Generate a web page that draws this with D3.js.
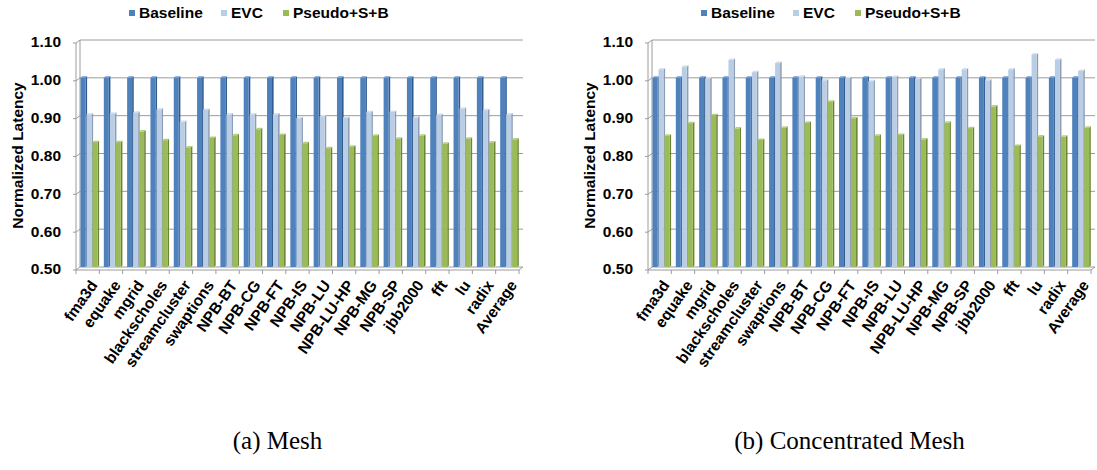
<!DOCTYPE html>
<meta charset="utf-8">
<style>
body { margin: 0; background: #fff; }
text { font-family: "Liberation Sans", Arial, sans-serif; font-weight: bold; fill: #000; }
.caption { font-family: "Liberation Serif", "Times New Roman", serif; font-weight: normal; }
.grid { stroke: #9c9c9c; stroke-width: 1; fill: none; }
</style>
<svg width="1097" height="470"></svg>
<script src="https://d3js.org/d3.v7.min.js"></script>
<script>

var categories = ["fma3d", "equake", "mgrid", "blackscholes", "streamcluster", "swaptions",
  "NPB-BT", "NPB-CG", "NPB-FT", "NPB-IS", "NPB-LU", "NPB-LU-HP", "NPB-MG", "NPB-SP",
  "jbb2000", "fft", "lu", "radix", "Average"]

var seriesNames = ["Baseline", "EVC", "Pseudo+S+B"]

var yTicks = [0.50, 0.60, 0.70, 0.80, 0.90, 1.00, 1.10]

// (a) Mesh
var meshBaseline = [1, 1, 1, 1, 1, 1, 1, 1, 1, 1, 1, 1, 1, 1, 1, 1, 1, 1, 1]
var meshEVC = [0.903, 0.905, 0.908, 0.916, 0.883, 0.915, 0.903, 0.903, 0.903, 0.893,
  0.898, 0.894, 0.909, 0.910, 0.895, 0.902, 0.918, 0.914, 0.903]
var meshPseudo = [0.830, 0.830, 0.858, 0.835, 0.816, 0.841, 0.848, 0.864, 0.849, 0.827,
  0.814, 0.818, 0.847, 0.839, 0.847, 0.826, 0.839, 0.829, 0.837]

// (b) Concentrated Mesh
var cmeshBaseline = [1, 1, 1, 1, 1, 1, 1, 1, 1, 1, 1, 1, 1, 1, 1, 1, 1, 1, 1]
var cmeshEVC = [1.022, 1.029, 0.998, 1.047, 1.015, 1.039, 1.003, 0.993, 0.999, 0.991,
  1.002, 0.997, 1.022, 1.022, 0.993, 1.022, 1.062, 1.048, 1.018]
var cmeshPseudo = [0.847, 0.880, 0.901, 0.866, 0.836, 0.868, 0.881, 0.937, 0.893, 0.847,
  0.849, 0.837, 0.881, 0.867, 0.924, 0.820, 0.845, 0.844, 0.868]

var colors = {
  "Baseline":   { front: "#4f81bd", side: "#2f5a8e", top: "#7099cc" },
  "EVC":        { front: "#b9cde5", side: "#8e9db3", top: "#d3e0ef" },
  "Pseudo+S+B": { front: "#9bbb59", side: "#6b8537", top: "#b5cf7f" }
}

var svg = d3.select("svg")

// 3d depth of the back wall
var dx = 4, dy = 3

var y = d3.scaleLinear().domain([0.5, 1.1]).range([267, 40])

function drawChart(x0, x1, baseline, evc, pseudo, caption) {
  var g = svg.append("g")

  var x = d3.scaleBand().domain(categories).range([x0, x1])
  var xs = d3.scaleBand().domain(seriesNames).range([4.5, 22.5])

  // back wall gridlines
  g.selectAll(".grid-h")
    .data(yTicks)
    .enter().append("line")
      .attr("class", "grid")
      .attr("x1", x0 + dx).attr("x2", x1 + dx)
      .attr("y1", function(d) { return y(d) }).attr("y2", function(d) { return y(d) })

  g.append("line").attr("class", "grid")
    .attr("x1", x0 + dx).attr("x2", x0 + dx)
    .attr("y1", y(1.1)).attr("y2", y(0.5))

  // front axis + small 3d connectors
  g.append("line").attr("class", "grid")
    .attr("x1", x0).attr("x2", x0)
    .attr("y1", y(1.1) + dy).attr("y2", y(0.5) + dy)

  g.selectAll(".tick-y")
    .data(yTicks)
    .enter().append("path")
      .attr("class", "grid")
      .attr("d", function(d) {
        return "M" + (x0 - 3) + "," + (y(d) + dy) + "H" + x0 + "L" + (x0 + dx) + "," + y(d)
      })

  // floor front edge + category ticks
  g.append("line").attr("class", "grid")
    .attr("x1", x0).attr("x2", x1)
    .attr("y1", y(0.5) + dy).attr("y2", y(0.5) + dy)
  g.append("line").attr("class", "grid")
    .attr("x1", x1).attr("x2", x1 + dx)
    .attr("y1", y(0.5) + dy).attr("y2", y(0.5))

  g.selectAll(".tick-x")
    .data(categories.concat(["end"]))
    .enter().append("line")
      .attr("class", "grid")
      .attr("x1", function(d, i) { return x0 + i * x.bandwidth() })
      .attr("x2", function(d, i) { return x0 + i * x.bandwidth() })
      .attr("y1", y(0.5) + dy).attr("y2", y(0.5) + dy + 4)

  var rows = categories.map(function(c, i) {
    return { cat: c, vals: [baseline[i], evc[i], pseudo[i]] }
  })

  var side = 1.6, rise = 1.5

  var cat = g.selectAll(".cat")
    .data(rows)
    .enter().append("g")
      .attr("transform", function(d) { return "translate(" + x(d.cat) + ",0)" })

  seriesNames.forEach(function(s, si) {
    var bw = xs.bandwidth() - 1
    var bars = cat.append("g")
    bars.append("path")
      .attr("fill", colors[s].side)
      .attr("d", function(d) {
        var bx = xs(s) + bw, top = y(d.vals[si]), bot = y(0.5)
        return "M" + bx + "," + top + "L" + (bx + side) + "," + (top - rise)
          + "L" + (bx + side) + "," + (bot - rise) + "L" + bx + "," + bot + "Z"
      })
    bars.append("path")
      .attr("fill", colors[s].top)
      .attr("d", function(d) {
        var bx = xs(s), top = y(d.vals[si])
        return "M" + bx + "," + top + "L" + (bx + side) + "," + (top - rise)
          + "L" + (bx + bw + side) + "," + (top - rise) + "L" + (bx + bw) + "," + top + "Z"
      })
    bars.append("rect")
      .attr("fill", colors[s].front)
      .attr("x", xs(s))
      .attr("width", bw)
      .attr("y", function(d) { return y(d.vals[si]) })
      .attr("height", function(d) { return y(0.5) - y(d.vals[si]) })
  })

  // y tick labels
  g.selectAll(".ylab")
    .data(yTicks)
    .enter().append("text")
      .attr("x", x0 - 15)
      .attr("y", function(d) { return y(d) + 2 })
      .attr("dy", "0.35em")
      .attr("text-anchor", "end")
      .style("font-size", "15.5px")
      .text(function(d) { return d3.format(".2f")(d) })

  g.append("text")
    .attr("transform", "translate(" + (x0 - 58) + "," + ((y(1.1) + y(0.5)) / 2 + 2) + ") rotate(-90)")
    .attr("text-anchor", "middle")
    .attr("dy", "0.35em")
    .style("font-size", "15.5px")
    .text("Normalized Latency")

  // category labels
  g.selectAll(".xlab")
    .data(categories)
    .enter().append("text")
      .attr("text-anchor", "end")
      .attr("transform", function(d) {
        return "translate(" + (x(d) + x.bandwidth() / 2 + 6) + "," + (y(0.5) + 15) + ") rotate(-55)"
      })
      .attr("dy", "0.35em")
      .style("font-size", "15.5px")
      .text(function(d) { return d })

  // legend
  var legX = [x0 + 53, x0 + 145, x0 + 207]
  var lg = g.selectAll(".leg")
    .data(seriesNames)
    .enter().append("g")
      .attr("transform", function(d, i) { return "translate(" + legX[i] + ",0)" })
  lg.append("rect")
    .attr("x", 0).attr("y", 10).attr("width", 6).attr("height", 6)
    .attr("fill", function(d) { return colors[d].front })
  lg.append("text")
    .attr("x", 10).attr("y", 18)
    .style("font-size", "15.5px")
    .text(function(d) { return d })

  g.append("text")
    .attr("class", "caption")
    .attr("x", (x0 + x1) / 2 - 20)
    .attr("y", 449)
    .attr("text-anchor", "middle")
    .style("font-size", "25px")
    .text(caption)
}

drawChart(76, 519, meshBaseline, meshEVC, meshPseudo, "(a) Mesh")
drawChart(648, 1091, cmeshBaseline, cmeshEVC, cmeshPseudo, "(b) Concentrated Mesh")

</script>
